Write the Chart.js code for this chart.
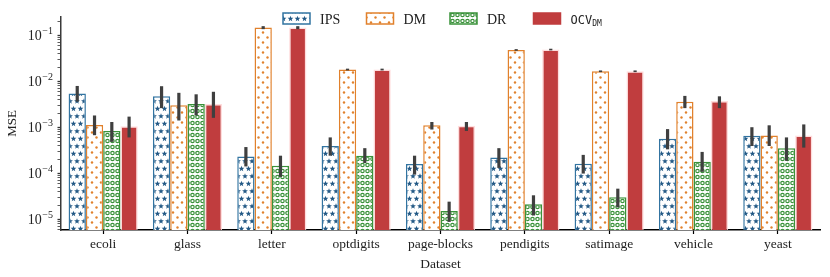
<!DOCTYPE html>
<html>
<head>
<meta charset="utf-8">
<script src="https://cdn.jsdelivr.net/npm/chart.js@4"></script>
<style>
  html, body { margin: 0; padding: 0; background: #fff; }
  #wrap { position: relative; width: 830px; height: 277px; }
</style>
</head>
<body>
<div id="wrap"><canvas id="chart"></canvas></div>
<script>
const categories = ['ecoli', 'glass', 'letter', 'optdigits', 'page-blocks', 'pendigits', 'satimage', 'vehicle', 'yeast'];

const ipsMse  = [5.4e-3, 4.7e-3, 2.3e-4, 3.9e-4, 1.58e-4, 2.2e-4, 1.6e-4, 5.6e-4, 6.5e-4];
const ipsLow  = [3.6e-3, 2.6e-3, 1.4e-4, 2.4e-4, 9.3e-5, 1.3e-4, 9.8e-5, 3.3e-4, 3.9e-4];
const ipsHigh = [7.9e-3, 7.8e-3, 3.7e-4, 6.0e-4, 2.4e-4, 3.5e-4, 2.5e-4, 9.1e-4, 1.0e-3];

const dmMse  = [1.12e-3, 3.0e-3, 0.147, 1.8e-2, 1.1e-3, 4.8e-2, 1.65e-2, 3.6e-3, 6.6e-4];
const dmLow  = [6.7e-4, 1.4e-3, 0.136, 1.72e-2, 8.9e-4, 4.6e-2, 1.58e-2, 2.6e-3, 3.9e-4];
const dmHigh = [1.8e-3, 5.6e-3, 0.158, 1.88e-2, 1.3e-3, 5.0e-2, 1.72e-2, 4.8e-3, 1.1e-3];

const drMse  = [8.3e-4, 3.2e-3, 1.45e-4, 2.4e-4, 1.5e-5, 2.1e-5, 3.0e-5, 1.78e-4, 3.5e-4];
const drLow  = [4.8e-4, 1.8e-3, 8.3e-5, 1.66e-4, 8.7e-6, 1.2e-5, 1.8e-5, 1.07e-4, 1.86e-4];
const drHigh = [1.3e-3, 5.2e-3, 2.4e-4, 3.5e-4, 2.4e-5, 3.3e-5, 4.6e-5, 2.9e-4, 6.0e-4];

const ocvMse  = [1.05e-3, 3.2e-3, 0.147, 1.8e-2, 1.08e-3, 4.9e-2, 1.65e-2, 3.7e-3, 6.6e-4];
const ocvLow  = [6.0e-4, 1.6e-3, 0.136, 1.72e-2, 8.3e-4, 4.7e-2, 1.58e-2, 2.6e-3, 3.6e-4];
const ocvHigh = [1.7e-3, 5.9e-3, 0.158, 1.88e-2, 1.3e-3, 5.1e-2, 1.72e-2, 4.7e-3, 1.15e-3];

const yMin = 5.8e-6;
const yMax = 0.25;
const yExponents = [-6, -5, -4, -3, -2, -1];

const BLUE = '#3274a1', ORANGE = '#e1812c', GREEN = '#3a923a', RED = '#c03d3e';
const SERIF = "'Liberation Serif', 'DejaVu Serif', serif";

// hatch tiles
function makeTile(w, h, draw) {
  const c = document.createElement('canvas');
  c.width = w; c.height = h;
  const g = c.getContext('2d');
  g.fillStyle = '#fff';
  g.fillRect(0, 0, w, h);
  draw(g);
  return document.createElement('canvas').getContext('2d').createPattern(c, 'repeat');
}
function star(g, cx, cy, ro, ri) {
  g.beginPath();
  for (let i = 0; i < 10; i++) {
    const r = i % 2 ? ri : ro;
    const a = -Math.PI / 2 + i * Math.PI / 5;
    g.lineTo(cx + r * Math.cos(a), cy + r * Math.sin(a));
  }
  g.closePath();
  g.fill();
}
const starFill = makeTile(14, 15, (g) => {
  g.fillStyle = '#245a86';
  for (const [x, y] of [[3.5, 3.75], [10.5, 3.75], [0, 11.25], [7, 11.25], [14, 11.25]]) {
    star(g, x, y, 3, 1.3);
  }
});
const dotFill = makeTile(9, 10, (g) => {
  g.fillStyle = ORANGE;
  for (const [x, y] of [[2, 2.5], [6.5, 7.5]]) {
    g.beginPath(); g.arc(x, y, 1.2, 0, Math.PI * 2); g.fill();
  }
});
const ringFill = makeTile(5, 6, (g) => {
  g.strokeStyle = GREEN;
  g.lineWidth = 1.2;
  g.beginPath(); g.arc(2.5, 3, 1.7, 0, Math.PI * 2); g.stroke();
});

const series = [
  { label: 'IPS', data: ipsMse, low: ipsLow, high: ipsHigh, fill: starFill, edge: BLUE, key: BLUE, sub: '' },
  { label: 'DM', data: dmMse, low: dmLow, high: dmHigh, fill: dotFill, edge: ORANGE, key: ORANGE, sub: '' },
  { label: 'DR', data: drMse, low: drLow, high: drHigh, fill: ringFill, edge: GREEN, key: GREEN, sub: '' },
  { label: 'OCV', data: ocvMse, low: ocvLow, high: ocvHigh, fill: RED, edge: 'rgba(255,215,215,0.85)', key: RED, sub: 'DM' },
];

const errorBars = {
  id: 'errorBars',
  afterDatasetsDraw(chart) {
    const { ctx } = chart;
    const y = chart.scales.y;
    ctx.save();
    ctx.strokeStyle = '#3f3f3f';
    ctx.lineWidth = 3.2;
    chart.data.datasets.forEach((ds, i) => {
      chart.getDatasetMeta(i).data.forEach((bar, j) => {
        ctx.beginPath();
        ctx.moveTo(bar.x, y.getPixelForValue(ds.low[j]));
        ctx.lineTo(bar.x, y.getPixelForValue(ds.high[j]));
        ctx.stroke();
      });
    });
    ctx.restore();
  }
};

// y tick labels as 10 with a raised exponent
const powerLabels = {
  id: 'powerLabels',
  afterDraw(chart) {
    const { ctx } = chart;
    const y = chart.scales.y;
    const right = y.right - 8;
    ctx.save();
    ctx.fillStyle = '#222';
    ctx.textBaseline = 'alphabetic';
    yExponents.forEach((e) => {
      const v = Math.pow(10, e);
      if (v < yMin || v > yMax) return;
      const py = y.getPixelForValue(v);
      ctx.font = '10px ' + SERIF;
      const exp = '\u2212' + String(-e);
      const ew = ctx.measureText(exp).width;
      ctx.textAlign = 'right';
      ctx.fillText(exp, right, py - 1);
      ctx.font = '14px ' + SERIF;
      ctx.fillText('10', right - ew - 0.5, py + 5);
    });
    ctx.restore();
  }
};

const legendBox = {
  id: 'legendBox',
  afterDraw(chart) {
    const { ctx } = chart;
    const x0 = 283, step = 83.5, top = 13, w = 27, h = 11;
    ctx.save();
    chart.data.datasets.forEach((ds, i) => {
      const x = x0 + i * step;
      ctx.fillStyle = ds.backgroundColor;
      ctx.fillRect(x, top, w, h);
      ctx.strokeStyle = ds.keyColor;
      ctx.lineWidth = 1.5;
      ctx.strokeRect(x, top, w, h);
      ctx.fillStyle = '#222';
      ctx.textAlign = 'left';
      ctx.textBaseline = 'alphabetic';
      if (ds.sub) {
        ctx.font = "12px 'DejaVu Sans Mono', monospace";
        ctx.fillText(ds.label, x + 37, top + 10.5);
        const tw = ctx.measureText(ds.label).width;
        ctx.font = "8px 'DejaVu Sans Mono', monospace";
        ctx.fillText(ds.sub, x + 37 + tw, top + 13);
      } else {
        ctx.font = '14px ' + SERIF;
        ctx.fillText(ds.label, x + 37, top + 11);
      }
    });
    ctx.restore();
  }
};

const isMajor = (v) => Math.abs(Math.log10(v) - Math.round(Math.log10(v))) < 1e-9;

new Chart(document.getElementById('chart'), {
  type: 'bar',
  data: {
    labels: categories,
    datasets: series.map((s) => ({
      label: s.label,
      sub: s.sub,
      keyColor: s.key,
      data: s.data,
      low: s.low,
      high: s.high,
      base: yMin,
      backgroundColor: s.fill,
      borderColor: s.edge,
      borderWidth: 1.5,
      categoryPercentage: 0.82,
      barPercentage: 1.0,
    })),
  },
  options: {
    responsive: true,
    maintainAspectRatio: false,
    animation: false,
    layout: { padding: { top: 17, right: 10, left: 0, bottom: 0 } },
    plugins: { legend: { display: false }, tooltip: { enabled: false } },
    scales: {
      x: {
        afterFit: (s) => { s.height = 47; },
        grid: { display: true, drawOnChartArea: false, offset: false, tickLength: 4, tickColor: '#000', tickWidth: 1.2 },
        border: { color: '#000', width: 1.5 },
        ticks: { color: '#222', font: { family: SERIF, size: 13.5 }, padding: 2 },
        title: { display: true, text: 'Dataset', color: '#222', font: { family: SERIF, size: 13.5 }, padding: { top: 0, bottom: 4 } },
      },
      y: {
        type: 'logarithmic',
        min: yMin,
        max: yMax,
        afterFit: (s) => { s.width = 61; },
        afterBuildTicks: (s) => {
          const t = [];
          yExponents.forEach((e) => {
            for (let m = 1; m <= 9; m++) {
              const v = m * Math.pow(10, e);
              if (v >= yMin && v <= yMax) t.push({ value: v, major: m === 1 });
            }
          });
          s.ticks = t;
        },
        grid: {
          display: true, drawOnChartArea: false, tickLength: 3.5, tickColor: '#333',
          tickWidth: (c) => (c.tick && isMajor(c.tick.value) ? 1.3 : 0.8),
        },
        border: { color: '#3a3a3a', width: 1.5 },
        ticks: { autoSkip: false, display: true, callback: () => '' },
        title: { display: true, text: 'MSE', color: '#222', font: { family: SERIF, size: 13 }, padding: { top: 5, bottom: 2 } },
      },
    },
  },
  plugins: [errorBars, powerLabels, legendBox],
});
</script>
</body>
</html>
